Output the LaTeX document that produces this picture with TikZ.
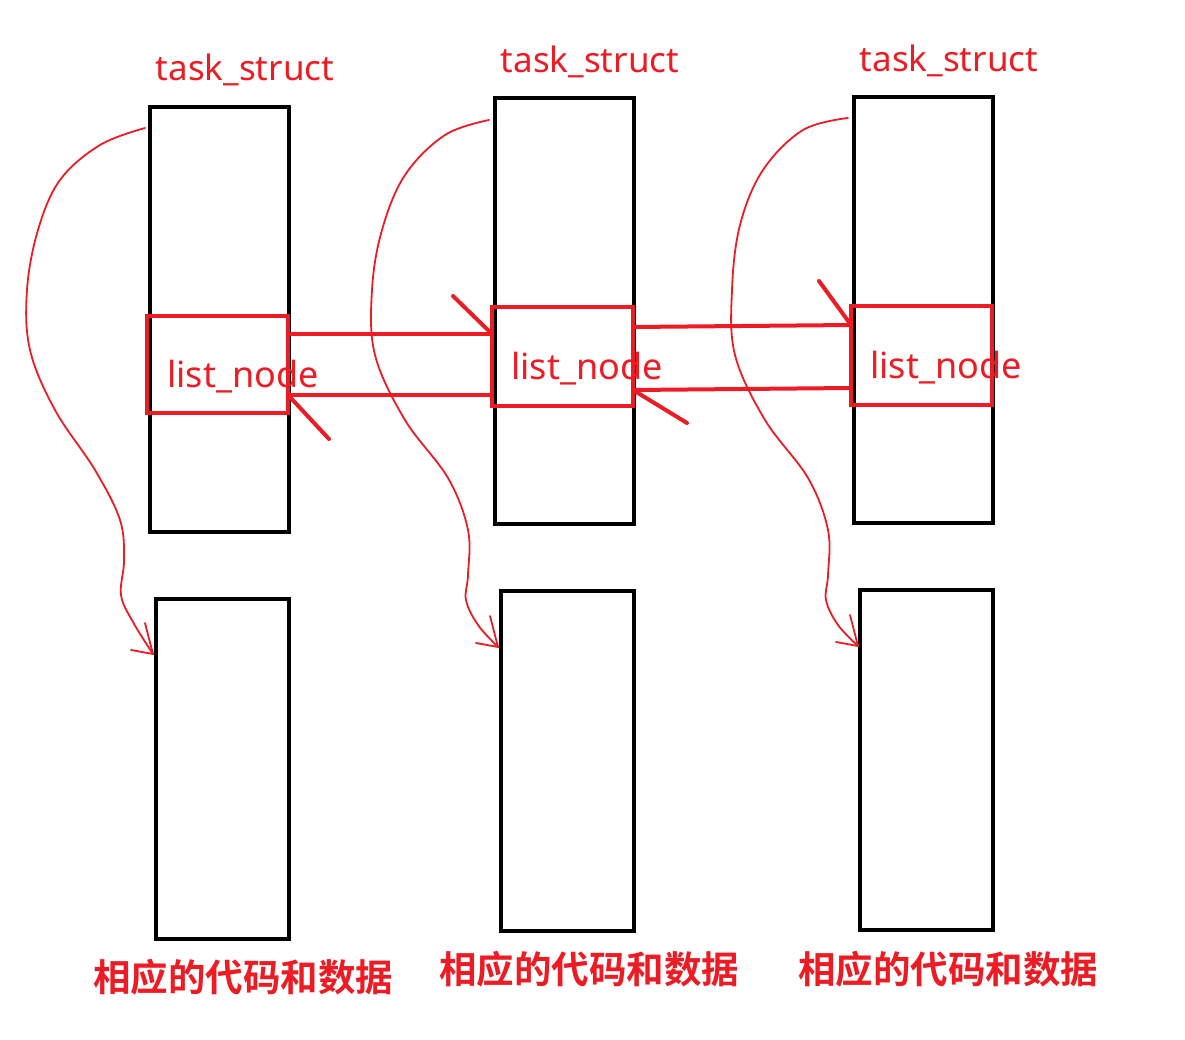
\documentclass[tikz,border=0pt]{standalone}
\usepackage{fontspec}
\setmainfont{Noto Sans}
\newfontfamily\cjk{Noto Sans CJK SC}[BoldFont={* Bold}]
\definecolor{pred}{HTML}{ED1C24}
\begin{document}
\begin{tikzpicture}[x=1pt,y=-1pt,
  blackbox/.style={draw=black,line width=4pt,inner sep=0pt,outer sep=0pt,anchor=north west},
  redbox/.style={draw=pred,line width=4pt,inner sep=0pt,outer sep=0pt,anchor=north west},
  redline/.style={draw=pred,line width=4pt},
  halfhead/.style={draw=pred,line width=4pt,line cap=round},
  curve/.style={draw=pred,line width=1.8pt,line cap=round,line join=round},
  title/.style={text=pred,font=\fontsize{35}{38}\selectfont},
  lnlabel/.style={text=pred,font=\fontsize{36}{38}\selectfont},
  cn/.style={text=pred,font=\cjk\bfseries\fontsize{37.5}{40}\selectfont}]
\useasboundingbox (0,0) rectangle (1185,1040);
% task_struct boxes
\node[blackbox,minimum width=139pt,minimum height=425pt] (ts1) at (150,107) {};
\node[blackbox,minimum width=139pt,minimum height=426pt] (ts2) at (495,98) {};
\node[blackbox,minimum width=139pt,minimum height=426pt] (ts3) at (854,97) {};
% code/data boxes
\node[blackbox,minimum width=133pt,minimum height=340pt] (cd1) at (156,599) {};
\node[blackbox,minimum width=133pt,minimum height=340pt] (cd2) at (501,591) {};
\node[blackbox,minimum width=133pt,minimum height=340pt] (cd3) at (860,590) {};
% list_node boxes
\node[redbox,minimum width=141pt,minimum height=97pt] (ln1) at (147,316) {};
\node[redbox,minimum width=141pt,minimum height=99pt] (ln2) at (492,307) {};
\node[redbox,minimum width=141pt,minimum height=99pt] (ln3) at (851,306) {};
% titles
\node[title] (t1) at (245,70) {task\_struct};
\node[title] (t2) at (590,62) {task\_struct};
\node[title] (t3) at (949,61) {task\_struct};
% list_node labels
\node[lnlabel] (l1) at (243,377) {list\_node};
\node[lnlabel] (l2) at (587,369) {list\_node};
\node[lnlabel] (l3) at (946,368) {list\_node};
% chinese labels
\node[cn] (c1) at (243,977) {相应的代码和数据};
\node[cn] (c2) at (589,969) {相应的代码和数据};
\node[cn] (c3) at (948,969) {相应的代码和数据};
% links between list nodes
\coordinate (a1s) at (ln1.east |- 0,334);
\coordinate (a1e) at (ln2.west |- 0,334);
\coordinate (b1s) at (ln2.west |- 0,395);
\coordinate (b1e) at (ln1.east |- 0,395);
\coordinate (a2s) at (ln2.east |- 0,327);
\coordinate (a2e) at (ln3.west |- 0,325);
\coordinate (b2s) at (ln3.west |- 0,388);
\coordinate (b2e) at (ln2.east |- 0,390);
\draw[redline] (a1s) -- (a1e);
\draw[redline] (b1s) -- (b1e);
\draw[redline] (a2s) -- (a2e);
\draw[redline] (b2s) -- (b2e);
\draw[halfhead] (453,296) -- (a1e);
\draw[halfhead] (b1e) -- (329,439);
\draw[halfhead] (819,281) -- (a2e);
\draw[halfhead] (b2e) -- (687,423);
% curved pointers
\coordinate (p1e) at (153,654);
\coordinate (p2e) at (498,647);
\coordinate (p3e) at (858,646);
\draw[curve] plot[smooth,tension=0.6] coordinates {(145,128) (100,145) (60,180) (38,230) (27,290) (30,350) (55,410) (95,470) (120,520) (124,560) (121,595) (133,622) (p1e)};
\draw[curve] (145,623) -- (p1e) -- (131,650);
\draw[curve] plot[smooth,tension=0.6] coordinates {(489,120) (445,135) (405,175) (382,230) (372,290) (375,355) (405,420) (448,478) (468,530) (468,575) (466,600) (478,625) (p2e)};
\draw[curve] (490,616) -- (p2e) -- (476,643);
\draw[curve] plot[smooth,tension=0.6] coordinates {(848,118) (803,130) (763,170) (740,225) (732,290) (735,355) (765,420) (808,478) (828,530) (828,575) (826,600) (838,625) (p3e)};
\draw[curve] (850,615) -- (p3e) -- (836,642);
\end{tikzpicture}
\end{document}
